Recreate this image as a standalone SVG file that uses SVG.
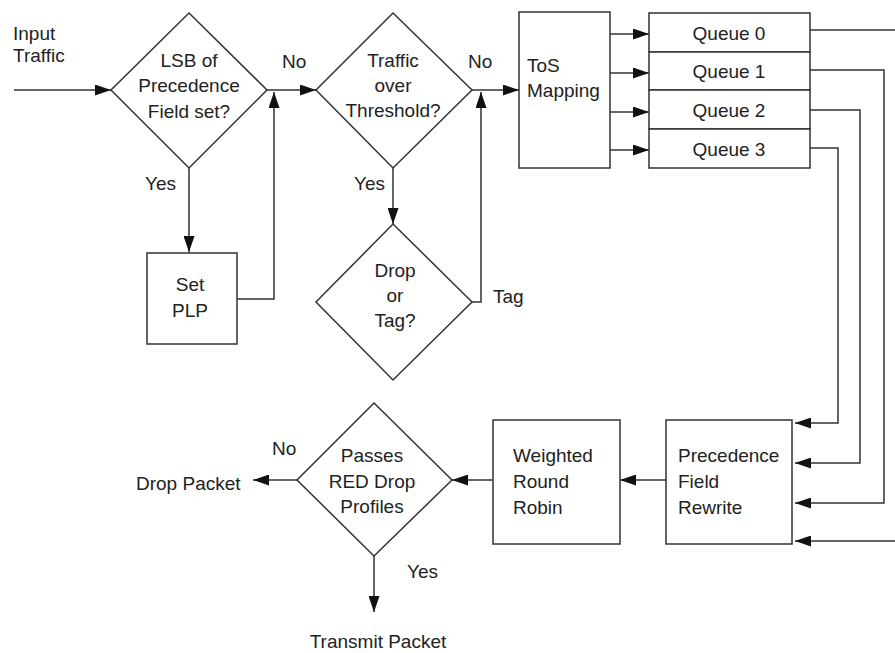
<svg xmlns="http://www.w3.org/2000/svg" width="895" height="653" viewBox="0 0 895 653">
<style>
.s{fill:#fff;stroke:#333;stroke-width:1.5}
.c{fill:none;stroke:#333;stroke-width:1.5}
text{font-family:"Liberation Sans",Arial,sans-serif;font-size:19px;fill:#222}
.m{text-anchor:middle}
</style>
<defs>
<marker id="a" markerUnits="userSpaceOnUse" markerWidth="16" markerHeight="11" refX="16" refY="5.5" orient="auto">
<path d="M0,0 L16,5.5 L0,11 z" fill="#111"/>
</marker>
</defs>
<rect width="895" height="653" fill="#fff"/>
<g id="connectors" class="c">
<line x1="14" y1="90" x2="111" y2="90" marker-end="url(#a)"/>
<line x1="267" y1="90" x2="316" y2="90" marker-end="url(#a)"/>
<line x1="189" y1="168" x2="189" y2="252" marker-end="url(#a)"/>
<polyline points="237,299 274,299 274,92" marker-end="url(#a)"/>
<line x1="472" y1="90" x2="519" y2="90" marker-end="url(#a)"/>
<line x1="393" y1="168" x2="393" y2="224" marker-end="url(#a)"/>
<polyline points="472,302 481,302 481,92" marker-end="url(#a)"/>
<line x1="610" y1="34" x2="649" y2="34" marker-end="url(#a)"/>
<line x1="610" y1="73" x2="649" y2="73" marker-end="url(#a)"/>
<line x1="610" y1="112" x2="649" y2="112" marker-end="url(#a)"/>
<line x1="610" y1="150" x2="649" y2="150" marker-end="url(#a)"/>
<line x1="810" y1="30" x2="896" y2="30"/>
<line x1="896" y1="541" x2="795" y2="541" marker-end="url(#a)"/>
<polyline points="810,70 884,70 884,503 795,503" marker-end="url(#a)"/>
<polyline points="810,110 860,110 860,463 795,463" marker-end="url(#a)"/>
<polyline points="810,148 838,148 838,423 795,423" marker-end="url(#a)"/>
<line x1="666" y1="480" x2="620" y2="480" marker-end="url(#a)"/>
<line x1="493" y1="480" x2="452" y2="480" marker-end="url(#a)"/>
<line x1="297" y1="480" x2="253" y2="480" marker-end="url(#a)"/>
<line x1="374" y1="556" x2="374" y2="612" marker-end="url(#a)"/>
</g>
<g id="labels">
<text x="13" y="40">Input</text>
<text x="13" y="62">Traffic</text>
<text x="145" y="190">Yes</text>
<text x="282" y="68">No</text>
<text x="468" y="68">No</text>
<text x="354" y="190">Yes</text>
<text x="493" y="303">Tag</text>
<text x="272" y="455">No</text>
<text x="136" y="490">Drop Packet</text>
<text x="407" y="578">Yes</text>
<text x="378" y="648" class="m">Transmit Packet</text>
</g>
<g id="lsb">
<polygon class="s" points="189,13 267,90 189,168 111,90"/>
<text x="189" y="67" class="m">LSB of</text>
<text x="189" y="92" class="m">Precedence</text>
<text x="189" y="118" class="m">Field set?</text>
</g>
<g id="setplp">
<rect class="s" x="147" y="253" width="90" height="91"/>
<text x="190" y="291" class="m">Set</text>
<text x="190" y="317" class="m">PLP</text>
</g>
<g id="threshold">
<polygon class="s" points="393,13 472,90 393,168 316,90"/>
<text x="393" y="67" class="m">Traffic</text>
<text x="393" y="92" class="m">over</text>
<text x="393" y="117" class="m">Threshold?</text>
</g>
<g id="droptag">
<polygon class="s" points="393,224 472,302 393,380 316,302"/>
<text x="395" y="277" class="m">Drop</text>
<text x="395" y="302" class="m">or</text>
<text x="395" y="327" class="m">Tag?</text>
</g>
<g id="tos">
<rect class="s" x="519" y="12" width="91" height="156"/>
<text x="527" y="72">ToS</text>
<text x="527" y="97">Mapping</text>
</g>
<g id="queues">
<rect class="s" x="649" y="13" width="161" height="39"/>
<rect class="s" x="649" y="52" width="161" height="38"/>
<rect class="s" x="649" y="90" width="161" height="39"/>
<rect class="s" x="649" y="129" width="161" height="39"/>
<text x="729" y="40" class="m">Queue 0</text>
<text x="729" y="78" class="m">Queue 1</text>
<text x="729" y="117" class="m">Queue 2</text>
<text x="729" y="156" class="m">Queue 3</text>
</g>
<g id="rewrite">
<rect class="s" x="666" y="420" width="126" height="124"/>
<text x="678" y="462">Precedence</text>
<text x="678" y="488">Field</text>
<text x="678" y="514">Rewrite</text>
</g>
<g id="wrr">
<rect class="s" x="493" y="420" width="127" height="124"/>
<text x="513" y="462">Weighted</text>
<text x="513" y="488">Round</text>
<text x="513" y="514">Robin</text>
</g>
<g id="red">
<polygon class="s" points="374,403 452,480 374,556 297,480"/>
<text x="372" y="462" class="m">Passes</text>
<text x="372" y="488" class="m">RED Drop</text>
<text x="372" y="513" class="m">Profiles</text>
</g>
</svg>
